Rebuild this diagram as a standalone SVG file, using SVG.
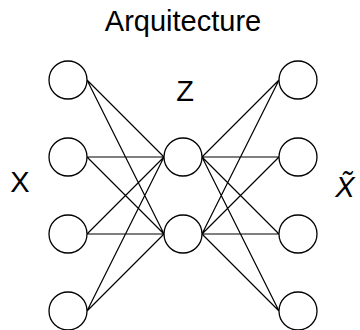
<svg xmlns="http://www.w3.org/2000/svg" width="360" height="330" viewBox="0 0 360 330">
<style>
.n{fill:#fff;stroke:#000;stroke-width:1.3}
.e{stroke:#000;stroke-width:1.2;fill:none}
.t{font-family:"Liberation Sans",Arial,sans-serif;font-size:29px;fill:#000;text-anchor:middle}
</style>
<rect width="360" height="330" fill="#fff"/>
<text class="t" x="183" y="31" font-size="30">Arquitecture</text>
<text class="t" x="185" y="101">Z</text>
<text class="t" x="20" y="192">X</text>
<text class="t" x="345" y="197" font-style="italic">X̃</text>
<g id="connectors" class="e">
<path d="M87,80L164,157M87,80L164,234M87,157L164,157M87,157L164,234M87,234L164,157M87,234L164,234M87,311L164,157M87,311L164,234"/>
<path d="M202,157L279,80M202,234L279,80M202,157L279,157M202,234L279,157M202,157L279,234M202,234L279,234M202,157L279,311M202,234L279,311"/>
</g>
<g id="x1"><circle class="n" cx="68" cy="80" r="19"/></g>
<g id="x2"><circle class="n" cx="68" cy="157" r="19"/></g>
<g id="x3"><circle class="n" cx="68" cy="234" r="19"/></g>
<g id="x4"><circle class="n" cx="68" cy="311" r="19"/></g>
<g id="z1"><circle class="n" cx="183" cy="157" r="19"/></g>
<g id="z2"><circle class="n" cx="183" cy="234" r="19"/></g>
<g id="y1"><circle class="n" cx="298" cy="80" r="19"/></g>
<g id="y2"><circle class="n" cx="298" cy="157" r="19"/></g>
<g id="y3"><circle class="n" cx="298" cy="234" r="19"/></g>
<g id="y4"><circle class="n" cx="298" cy="311" r="19"/></g>
</svg>
